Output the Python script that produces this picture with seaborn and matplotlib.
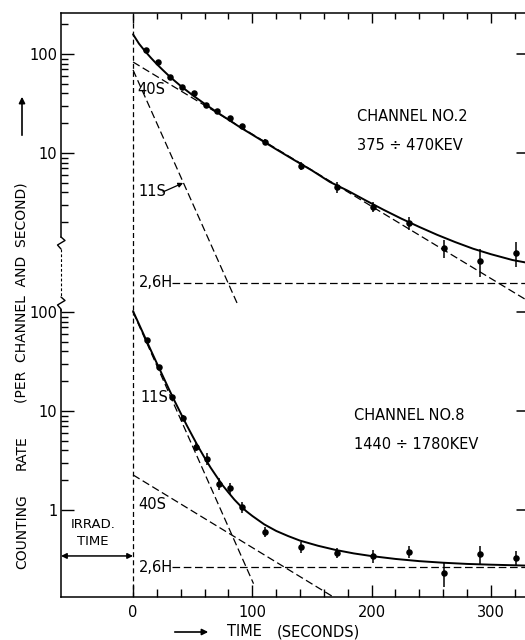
import matplotlib
matplotlib.use("Agg")
import matplotlib.pyplot as plt
import matplotlib.ticker as mticker
from matplotlib.lines import Line2D
from matplotlib.patches import FancyArrowPatch
from matplotlib import font_manager
import seaborn as sns

# ---------------- data ----------------
# Channel No.2 (375 - 470 keV)
t_ch2 = [11, 21, 31, 41, 51, 61, 70, 81, 91, 111, 141, 171, 201, 231, 261, 291, 321]
rate_ch2 = [110, 83, 58.5, 46, 40, 30.5, 26.5, 22.6, 18.7, 12.9, 7.4, 4.5, 2.85, 1.96, 1.10, 0.81, 0.98]
err_ch2 = [3, 2.5, 2, 1.6, 1.4, 1.2, 1.0, 0.9, 0.8, 0.8, 0.7, 0.55, 0.33, 0.30, 0.23, 0.25, 0.27]
fit_t_ch2 = [0, 5, 10, 15, 20, 25, 30, 35, 40, 50, 60, 70, 80, 90, 100, 120, 135, 150,
             165, 180, 195, 210, 225, 240, 255, 270, 285, 300, 318, 335]
fit_ch2 = [158, 127, 107, 91.4, 78.8, 68.8, 60.3, 53.4, 47.5, 38.3, 31.4, 26.0, 21.7, 18.1,
           15.3, 10.9, 8.5, 6.66, 5.1, 4.16, 3.32, 2.67, 2.17, 1.79, 1.49, 1.26, 1.08, 0.95,
           0.83, 0.76]
c40_t_ch2, c40_ch2 = [0, 335], [83, 0.30]
c11_t_ch2, c11_ch2 = [0, 88], [69, 0.29]
c26_t_ch2, c26_ch2 = [33, 335], [0.49, 0.49]

# Channel No.8 (1440 - 1780 keV)
t_ch8 = [12, 22, 33, 42, 53, 62, 72, 81, 91, 111, 141, 171, 201, 231, 261, 291, 321]
rate_ch8 = [52, 27.8, 13.8, 8.5, 4.3, 3.3, 1.83, 1.66, 1.07, 0.60, 0.42, 0.37, 0.34, 0.38, 0.23, 0.36, 0.33]
err_ch8 = [2.0, 1.2, 0.8, 0.6, 0.4, 0.45, 0.25, 0.2, 0.13, 0.07, 0.05, 0.045, 0.05, 0.055, 0.065, 0.075, 0.055]
fit_t_ch8 = [0, 5, 10, 15, 20, 25, 30, 35, 40, 45, 50, 55, 60, 65, 70, 75, 80, 85, 90, 95,
             100, 110, 120, 130, 140, 155, 170, 185, 200, 220, 240, 260, 280, 300, 335]
fit_ch8 = [102, 75.3, 55.5, 40.9, 30.3, 22.5, 16.7, 12.5, 9.47, 7.18, 5.53, 4.28, 3.37, 2.68,
           2.18, 1.78, 1.50, 1.27, 1.10, 0.97, 0.87, 0.715, 0.614, 0.545, 0.49, 0.435, 0.394,
           0.364, 0.342, 0.32, 0.304, 0.293, 0.285, 0.28, 0.273]
c11_t_ch8, c11_ch8 = [0, 101], [100, 0.18]
c40_t_ch8, c40_ch8 = [0, 168], [2.26, 0.132]
c26_t_ch8, c26_ch8 = [33, 335], [0.265, 0.265]

x_major = [0, 100, 200, 300]
x_minor = [20, 40, 60, 80, 120, 140, 160, 180, 220, 240, 260, 280, 320]
y_major_up = [10, 100]
y_minor_up = [2, 3, 4, 5, 6, 7, 8, 9, 20, 30, 40, 50, 60, 70, 80, 90, 200]
y_major_lo = [1, 10, 100]
y_minor_lo = [2, 3, 4, 5, 6, 7, 8, 9, 20, 30, 40, 50, 60, 70, 80, 90]

# ---------------- style ----------------
sns.set_style("ticks")
plt.rcParams["font.family"] = ["DejaVu Sans"]
plt.rcParams["lines.scale_dashes"] = False
for key in ("text.color", "axes.edgecolor", "axes.labelcolor", "xtick.color", "ytick.color"):
    plt.rcParams[key] = "k"
names = {f.name for f in font_manager.fontManager.ttflist}
NARROW = "Liberation Sans Narrow" if "Liberation Sans Narrow" in names else "DejaVu Sans"
NARROW_SIZE = 12 if NARROW != "DejaVu Sans" else 10

W, H = 525, 640
fig = plt.figure(figsize=(W / 100, H / 100), dpi=100)
fig.patch.set_facecolor("white")


def fx(px):
    return px / W


def fy(py):
    return 1 - py / H


XMIN, XMAX = -60.4, 328.6
ax_up = fig.add_axes([fx(61), fy(310), (525 - 61) / W, (310 - 13) / H])
ax_lo = fig.add_axes([fx(61), fy(597), (525 - 61) / W, (597 - 310) / H])

DASH = (0, (5.5, 2.6))
SOLID_LW = 1.4
DASH_LW = 0.9


def draw_panel(ax, t, r, e, ft, fv, comps):
    sns.lineplot(x=ft, y=fv, ax=ax, color="k", lw=SOLID_LW, errorbar=None, sort=False)
    for ct, cv in comps:
        sns.lineplot(x=ct, y=cv, ax=ax, color="k", lw=DASH_LW, linestyle=DASH,
                     errorbar=None, sort=False)
    ax.errorbar(t, r, yerr=e, fmt="none", ecolor="k", elinewidth=1.1, capsize=0, zorder=4)
    sns.scatterplot(x=t, y=r, ax=ax, color="k", s=22, linewidth=0, zorder=5)
    ax.axvline(0, color="k", lw=0.9, linestyle=(0, (3.6, 2.2)))


draw_panel(ax_up, t_ch2, rate_ch2, err_ch2, fit_t_ch2, fit_ch2,
           [(c40_t_ch2, c40_ch2), (c11_t_ch2, c11_ch2), (c26_t_ch2, c26_ch2)])
draw_panel(ax_lo, t_ch8, rate_ch8, err_ch8, fit_t_ch8, fit_ch8,
           [(c11_t_ch8, c11_ch8), (c40_t_ch8, c40_ch8), (c26_t_ch8, c26_ch8)])

for ax, majors, minors in ((ax_up, y_major_up, y_minor_up), (ax_lo, y_major_lo, y_minor_lo)):
    ax.set_yscale("log")
    ax.set_xlim(XMIN, XMAX)
    ax.set_xlabel("")
    ax.set_ylabel("")
    ax.spines["right"].set_visible(False)
    for s in ax.spines.values():
        s.set_linewidth(1.1)
        s.set_color("k")
    ax.xaxis.set_major_locator(mticker.FixedLocator(x_major))
    ax.xaxis.set_minor_locator(mticker.FixedLocator(x_minor))
    ax.yaxis.set_major_locator(mticker.FixedLocator(majors))
    ax.yaxis.set_minor_locator(mticker.FixedLocator(minors))
    ax.yaxis.set_major_formatter(mticker.FuncFormatter(lambda v, p: f"{v:g}"))
    ax.yaxis.set_minor_formatter(mticker.NullFormatter())
    ax.tick_params(axis="y", which="major", direction="in", length=9.4, width=1.0,
                   pad=2.5, labelsize=10.5, left=True, right=False, colors="k")
    ax.tick_params(axis="y", which="minor", direction="in", length=5, width=1.0,
                   left=True, right=False, colors="k")
    tr = ax.get_yaxis_transform()
    for v in majors:
        ax.plot([1 - 8 / 464, 1], [v, v], transform=tr, color="k", lw=1.1, clip_on=False)

ax_up.set_ylim(0.2594, 259.5)
ax_lo.set_ylim(0.132, 104.8)

# upper panel: ticks on top only, broken left spine
ax_up.spines["bottom"].set_visible(False)
ax_up.spines["left"].set_bounds(1.417, 259.5)
ax_up.tick_params(axis="x", which="major", direction="in", length=7, width=1.0,
                  top=True, bottom=False, labeltop=False, labelbottom=False, colors="k")
ax_up.tick_params(axis="x", which="minor", direction="in", length=4.3, width=1.0,
                  top=True, bottom=False, colors="k")

# lower panel: ticks on bottom
ax_lo.spines["top"].set_visible(False)
ax_lo.xaxis.set_major_formatter(mticker.FuncFormatter(lambda v, p: f"{v:g}"))
ax_lo.tick_params(axis="x", which="major", direction="in", length=8.6, width=1.0,
                  pad=5.5, labelsize=10.5, bottom=True, top=False, colors="k")
ax_lo.tick_params(axis="x", which="minor", direction="in", length=5.5, width=1.0,
                  bottom=True, top=False, colors="k")

# ---------------- texts in the panels ----------------
TXT = 10.5
ax_up.text(3.5, 43.3, "40S", ha="left", va="center", fontsize=TXT)
ax_up.text(4.2, 4.04, "11S", ha="left", va="center", fontsize=TXT)
ax_up.annotate("", xy=(42, 4.98), xytext=(25, 4.04),
               arrowprops=dict(arrowstyle="-|>", color="k", lw=0.9, mutation_scale=7,
                               shrinkA=0, shrinkB=0))
ax_up.text(5, 0.49, "2,6H", ha="left", va="center", fontsize=TXT)
ax_up.text(188, 23.1, "CHANNEL NO.2", ha="left", va="center", fontsize=10.5)
ax_up.text(188, 11.8, "375 ÷ 470KEV", ha="left", va="center", fontsize=10.5)

ax_lo.text(6, 13.8, "11S", ha="left", va="center", fontsize=TXT)
ax_lo.text(4.2, 1.125, "40S", ha="left", va="center", fontsize=TXT)
ax_lo.text(5, 0.265, "2,6H", ha="left", va="center", fontsize=TXT)
ax_lo.text(185, 8.9, "CHANNEL NO.8", ha="left", va="center", fontsize=10.5)
ax_lo.text(185, 4.54, "1440 ÷ 1780KEV", ha="left", va="center", fontsize=10.5)
ax_lo.text(-33.5, 0.72, "IRRAD.", ha="center", va="center", fontsize=9.5)
ax_lo.text(-33.5, 0.475, "TIME", ha="center", va="center", fontsize=9.5)
ax_lo.annotate("", xy=(0, 0.343), xytext=(XMIN, 0.343),
               arrowprops=dict(arrowstyle="<|-|>", color="k", lw=1.1, mutation_scale=8,
                               shrinkA=0, shrinkB=0))


# ---------------- broken left axis decoration ----------------
def fig_line(pts, **kw):
    fig.add_artist(Line2D([fx(p[0]) for p in pts], [fy(p[1]) for p in pts],
                          transform=fig.transFigure, color="k", **kw))


fig_line([(61, 237), (65, 240.5), (57.5, 245), (61, 249)], lw=1.0)
fig_line([(61, 249), (61, 297)], lw=0.8, linestyle=(0, (2, 1.5)))
fig_line([(61, 297), (65, 300.5), (57.5, 305), (61, 309), (61, 311)], lw=1.0)

# ---------------- axis labels ----------------
fig.text(fx(22), fy(532), "COUNTING", rotation=90, ha="center", va="center",
         fontsize=NARROW_SIZE, family=NARROW)
fig.text(fx(22), fy(453), "RATE", rotation=90, ha="center", va="center",
         fontsize=NARROW_SIZE, family=NARROW)
fig.text(fx(22), fy(293), "(PER  CHANNEL  AND  SECOND)", rotation=90, ha="center",
         va="center", fontsize=NARROW_SIZE, family=NARROW)
fig.add_artist(FancyArrowPatch((fx(22), fy(138)), (fx(22), fy(94)),
                               transform=fig.transFigure, arrowstyle="-|>",
                               mutation_scale=9, lw=1.2, color="k"))

fig.add_artist(FancyArrowPatch((fx(172), fy(632)), (fx(211), fy(632)),
                               transform=fig.transFigure, arrowstyle="-|>",
                               mutation_scale=9, lw=1.2, color="k"))
fig.text(fx(227), fy(632), "TIME", ha="left", va="center", fontsize=10.5)
fig.text(fx(277), fy(632), "(SECONDS)", ha="left", va="center", fontsize=10.5)

fig.savefig("out.png", dpi=100, facecolor="white")
